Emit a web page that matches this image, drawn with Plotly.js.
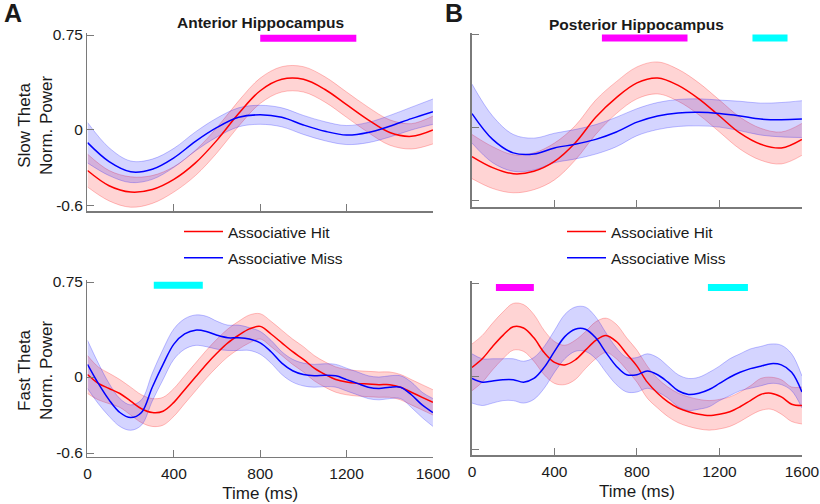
<!DOCTYPE html>
<html>
<head>
<meta charset="utf-8">
<script src="https://cdn.plot.ly/plotly-3.0.1.min.js"></script>
<style>
  body { margin: 0; background: #fff; }
  #chart { width: 820px; height: 504px; }
</style>
</head>
<body>
<div id="chart"></div>
<script>
// time grids (ms)
var t_slow = [0,100,200,300,400,500,600,700,800,900,1000,1100,1200,1300,1400,1500,1600];
var t_fast = [0,50,100,150,200,250,300,350,400,450,500,550,600,650,700,750,800,
              850,900,950,1000,1050,1100,1150,1200,1250,1300,1350,1400,1450,1500,1550,1600];

// Anterior, slow theta
var antSlowHit     = [-0.32,-0.44,-0.49,-0.47,-0.39,-0.26,-0.08,0.13,0.31,0.40,0.40,0.32,0.20,0.08,-0.02,-0.05,0.00];
var antSlowHitSe   = [0.13,0.12,0.12,0.11,0.10,0.10,0.10,0.10,0.10,0.10,0.10,0.10,0.10,0.10,0.10,0.10,0.11];
var antSlowMiss    = [-0.10,-0.25,-0.33,-0.31,-0.22,-0.09,0.02,0.10,0.12,0.10,0.04,-0.01,-0.04,-0.02,0.03,0.09,0.145];
var antSlowMissSe  = [0.16,0.11,0.085,0.08,0.075,0.075,0.075,0.075,0.075,0.075,0.075,0.075,0.075,0.08,0.085,0.09,0.10];

// Posterior, slow theta
var postSlowHit    = [-0.24,-0.33,-0.38,-0.36,-0.28,-0.13,0.08,0.24,0.36,0.40,0.34,0.23,0.09,-0.05,-0.14,-0.17,-0.10];
var postSlowHitSe  = [0.18,0.17,0.155,0.15,0.15,0.14,0.14,0.13,0.13,0.13,0.13,0.13,0.13,0.13,0.13,0.13,0.13];
var postSlowMiss   = [0.11,-0.10,-0.21,-0.22,-0.17,-0.14,-0.10,-0.04,0.04,0.09,0.115,0.12,0.11,0.09,0.065,0.06,0.065];
var postSlowMissSe = [0.24,0.19,0.15,0.13,0.12,0.12,0.12,0.12,0.11,0.11,0.11,0.11,0.11,0.12,0.13,0.14,0.15];

// Anterior, fast theta
var antFastHit     = [0.02,-0.05,-0.09,-0.13,-0.19,-0.25,-0.28,-0.27,-0.20,-0.10,0.00,0.10,0.19,0.27,0.33,0.38,0.40,
                      0.34,0.27,0.20,0.14,0.07,0.02,-0.02,-0.04,-0.05,-0.055,-0.06,-0.06,-0.08,-0.12,-0.16,-0.20];
var antFastHitSe   = [0.15,0.13,0.12,0.11,0.11,0.11,0.11,0.11,0.11,0.11,0.11,0.11,0.11,0.11,0.11,0.11,0.10,
                      0.10,0.10,0.10,0.10,0.10,0.10,0.10,0.10,0.10,0.10,0.10,0.10,0.10,0.10,0.10,0.10];
var antFastMiss    = [0.10,-0.05,-0.18,-0.28,-0.32,-0.28,-0.08,0.10,0.26,0.34,0.37,0.36,0.33,0.31,0.31,0.30,0.27,
                      0.20,0.11,0.05,0.02,0.01,0.015,0.01,-0.02,-0.05,-0.08,-0.09,-0.08,-0.08,-0.14,-0.22,-0.28];
var antFastMissSe  = [0.19,0.16,0.13,0.11,0.10,0.10,0.11,0.12,0.12,0.12,0.12,0.12,0.11,0.10,0.10,0.09,0.09,
                      0.09,0.09,0.09,0.09,0.09,0.09,0.09,0.09,0.09,0.09,0.09,0.09,0.09,0.10,0.10,0.11];

// Posterior, fast theta
var postFastHit    = [0.07,0.14,0.24,0.33,0.40,0.39,0.31,0.19,0.11,0.09,0.13,0.21,0.29,0.33,0.28,0.18,0.08,
                      -0.05,-0.14,-0.21,-0.26,-0.29,-0.31,-0.32,-0.31,-0.29,-0.25,-0.20,-0.15,-0.14,-0.17,-0.23,-0.24];
var postFastHitSe  = [0.19,0.19,0.19,0.19,0.19,0.19,0.19,0.18,0.17,0.16,0.16,0.15,0.15,0.14,0.14,0.13,0.13,
                      0.13,0.12,0.12,0.12,0.12,0.12,0.12,0.12,0.12,0.12,0.12,0.13,0.13,0.14,0.14,0.15];
var postFastMiss   = [-0.02,-0.05,-0.04,-0.03,-0.03,-0.05,-0.02,0.07,0.20,0.32,0.38,0.38,0.31,0.19,0.08,0.01,0.01,
                      0.04,0.01,-0.05,-0.12,-0.15,-0.14,-0.11,-0.06,-0.01,0.03,0.06,0.08,0.10,0.09,0.03,-0.13];
var postFastMissSe = [0.20,0.19,0.18,0.17,0.17,0.17,0.17,0.17,0.17,0.18,0.18,0.18,0.17,0.16,0.15,0.14,0.14,
                      0.14,0.14,0.13,0.13,0.13,0.13,0.14,0.14,0.15,0.15,0.16,0.16,0.16,0.16,0.15,0.13];

// significant windows (ms)
var antSlowSigHit   = [800, 1245];
var postSlowSigHit  = [630, 1045];
var postSlowSigMiss = [1360, 1530];
var antFastSigMiss  = [307, 534];
var postFastSigHit  = [116, 300];
var postFastSigMiss = [1144, 1338];

var xTicks = [0, 400, 800, 1200, 1600];
var yTicks = [-0.6, 0, 0.75];
var yTickText = ['-0.6', '0', '0.75'];

var RED = 'rgb(255,0,0)', BLUE = 'rgb(0,0,255)';
var MAGENTA = 'rgb(255,0,255)', CYAN = 'rgb(0,255,255)';
var FONT = 'Liberation Sans, Arial, sans-serif';

function band(t, m, se, col, fillcol, xa, ya) {
    var up = m.map(function(v, i) { return v + se[i]; });
    var lo = m.map(function(v, i) { return v - se[i]; });
    return [
        { x: t, y: up, xaxis: xa, yaxis: ya, mode: 'lines', showlegend: false, hoverinfo: 'skip',
          line: { color: col, width: 0.8, shape: 'spline' } },
        { x: t, y: lo, xaxis: xa, yaxis: ya, mode: 'lines', showlegend: false, hoverinfo: 'skip',
          fill: 'tonexty', fillcolor: fillcol,
          line: { color: col, width: 0.8, shape: 'spline' } }
    ];
}

function panel(t, hit, hitSe, miss, missSe, xa, ya, leg) {
    var out = [];
    out = out.concat(band(t, hit, hitSe, 'rgba(255,0,0,0.3)', 'rgba(255,0,0,0.17)', xa, ya));
    out = out.concat(band(t, miss, missSe, 'rgba(0,0,255,0.3)', 'rgba(0,0,255,0.17)', xa, ya));
    out.push({ x: t, y: hit, xaxis: xa, yaxis: ya, mode: 'lines', name: 'Associative Hit',
               showlegend: !!leg, legend: leg || 'legend', legendgroup: 'hit',
               line: { color: RED, width: 1.5, shape: 'spline' } });
    out.push({ x: t, y: miss, xaxis: xa, yaxis: ya, mode: 'lines', name: 'Associative Miss',
               showlegend: !!leg, legend: leg || 'legend', legendgroup: 'miss',
               line: { color: BLUE, width: 1.5, shape: 'spline' } });
    return out;
}

function sigBar(win, col, lvl, xa, ya) {
    return { x: win, y: [lvl, lvl], xaxis: xa, yaxis: ya, mode: 'lines', showlegend: false,
             hoverinfo: 'skip', line: { color: col, width: 7 } };
}

var data = []
    .concat(panel(t_slow, antSlowHit, antSlowHitSe, antSlowMiss, antSlowMissSe, 'x', 'y', 'legend'))
    .concat(panel(t_slow, postSlowHit, postSlowHitSe, postSlowMiss, postSlowMissSe, 'x2', 'y2', 'legend2'))
    .concat(panel(t_fast, antFastHit, antFastHitSe, antFastMiss, antFastMissSe, 'x3', 'y3', null))
    .concat(panel(t_fast, postFastHit, postFastHitSe, postFastMiss, postFastMissSe, 'x4', 'y4', null));

data.push(sigBar(antSlowSigHit, MAGENTA, 0.725, 'x', 'y'));
data.push(sigBar(postSlowSigHit, MAGENTA, 0.725, 'x2', 'y2'));
data.push(sigBar(postSlowSigMiss, CYAN, 0.725, 'x2', 'y2'));
data.push(sigBar(antFastSigMiss, CYAN, 0.725, 'x3', 'y3'));
data.push(sigBar(postFastSigHit, MAGENTA, 0.72, 'x4', 'y4'));
data.push(sigBar(postFastSigMiss, CYAN, 0.72, 'x4', 'y4'));

function xAxis(dom, anchor, labels) {
    var ax = {
        domain: dom, anchor: anchor, range: [0, 1600], tickvals: xTicks,
        showticklabels: labels, ticks: 'inside', ticklen: 7, tickcolor: '#7a7a7a', tickwidth: 1,
        showline: true, linecolor: '#7a7a7a', linewidth: 1.5, showgrid: false, zeroline: false,
        tickfont: { size: 15.5, color: '#1a1a1a' }, ticklabelstandoff: 2, fixedrange: true
    };
    if (labels) ax.title = { text: 'Time (ms)', font: { size: 17, color: '#1a1a1a' }, standoff: 6 };
    return ax;
}

function yAxis(dom, anchor, range, labels) {
    return {
        domain: dom, anchor: anchor, range: range, tickvals: yTicks, ticktext: yTickText,
        showticklabels: labels, ticks: 'inside', ticklen: 7, tickcolor: '#7a7a7a', tickwidth: 1,
        showline: true, linecolor: '#7a7a7a', linewidth: 1.5, showgrid: false, zeroline: false,
        tickfont: { size: 15.5, color: '#1a1a1a' }, fixedrange: true
    };
}

function note(text, px, py, size, angle) {
    return { text: text, x: px / 820, y: 1 - py / 504, xref: 'paper', yref: 'paper',
             xanchor: 'center', yanchor: 'middle', showarrow: false, textangle: angle || 0,
             font: { size: size } };
}

var legendBase = {
    y: 1 - 215 / 504, xanchor: 'left', yanchor: 'top', bgcolor: 'rgba(0,0,0,0)',
    font: { size: 15.5 }, traceorder: 'grouped', tracegroupgap: 3, itemwidth: 39
};

var layout = {
    width: 820, height: 504,
    margin: { l: 0, r: 0, t: 0, b: 0 },
    paper_bgcolor: '#fff', plot_bgcolor: '#fff',
    font: { family: FONT, color: '#1a1a1a' },
    xaxis:  xAxis([0.1067, 0.528], 'y', false),
    yaxis:  yAxis([0.5813, 0.9345], 'x', [-0.64, 0.766], true),
    xaxis2: xAxis([0.5756, 0.978], 'y2', false),
    yaxis2: yAxis([0.589, 0.9345], 'x2', [-0.652, 0.766], false),
    xaxis3: xAxis([0.1067, 0.528], 'y3', true),
    yaxis3: yAxis([0.0933, 0.4444], 'x3', [-0.631, 0.766], true),
    xaxis4: xAxis([0.5756, 0.978], 'y4', true),
    yaxis4: yAxis([0.0972, 0.4425], 'x4', [-0.642, 0.772], false),
    legend:  Object.assign({ x: 179 / 820 }, legendBase),
    legend2: Object.assign({ x: 562 / 820 }, legendBase),
    annotations: [
        note('<b>A</b>', 13, 13, 25),
        note('<b>B</b>', 454, 13, 25),
        note('<b>Anterior Hippocampus</b>', 260, 23, 15.5),
        note('<b>Posterior Hippocampus</b>', 636, 24, 15.5),
        note('Slow Theta<br>Norm. Power', 35, 125, 17, -90),
        note('Fast Theta<br>Norm. Power', 35, 370, 17, -90)
    ]
};

Plotly.newPlot('chart', data, layout, { displayModeBar: false, staticPlot: true });
</script>
</body>
</html>
